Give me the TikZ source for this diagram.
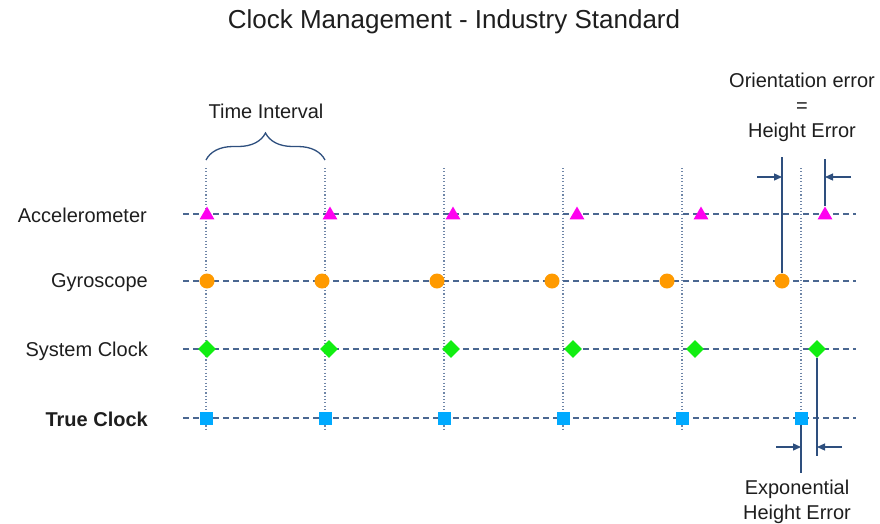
\documentclass[tikz,border=0pt]{standalone}
\usepackage{fontspec}
\setmainfont{Liberation Sans}
\usetikzlibrary{positioning}
\usetikzlibrary{shapes.geometric}
\usetikzlibrary{decorations.pathreplacing}
\usetikzlibrary{arrows.meta}

\definecolor{txt}{HTML}{1E1E1E}
\definecolor{rowc}{HTML}{4A6791}
\definecolor{errc}{HTML}{2E4F7E}
\definecolor{accc}{HTML}{FF00F0}
\definecolor{gyroc}{HTML}{FF9A00}
\definecolor{sysc}{HTML}{11EE11}
\definecolor{truec}{HTML}{00AAFF}

\begin{document}
\begin{tikzpicture}[x=1pt,y=-1pt,
    every node/.style={font=\fontsize{20}{25}\selectfont, text=txt},
    rowline/.style={rowc, line width=1.2pt, dash pattern=on 6pt off 4pt},
    tickline/.style={rowc!80, line width=1.1pt, dash pattern=on 1.1pt off 2.2pt},
    errline/.style={errc, line width=1.4pt},
    errarrow/.style={errc, line width=1.3pt, -{Triangle[length=8pt,width=7pt]}},
    accmark/.style={regular polygon, regular polygon sides=3, fill=accc,
      minimum size=17pt, inner sep=0pt},
    gyromark/.style={circle, fill=gyroc, minimum size=15pt, inner sep=0pt},
    sysmark/.style={diamond, fill=sysc, minimum size=18pt, inner sep=0pt},
    truemark/.style={rectangle, fill=truec, minimum size=13pt, inner sep=0pt}]
  \useasboundingbox (0,0) rectangle (880,523);

  \node (title) at (454,22) {\fontsize{26}{30}\selectfont Clock Management - Industry Standard};

  % row labels
  \begin{scope}[every node/.append style={anchor=east, inner sep=0pt}]
    \node (accl) at (147,215) {Accelerometer};
    \node (gyrol) at (148,283) {Gyroscope};
    \node (sysl) at (148,351) {System Clock};
    \node (truel) at (148,419) {\bfseries True Clock};
  \end{scope}

  % time grid
  \foreach \x [count=\i] in {206,325,444,563,682,801} {
    \coordinate (top\i) at (\x,168);
    \coordinate (bot\i) at (\x,429);
    \draw [tickline] (top\i) -- (bot\i);
  }
  \foreach \name/\y in {acc/214,gyro/281,sys/349,true/418} {
    \coordinate (\name-s) at (183,\y);
    \coordinate (\name-e) at (856,\y);
    \draw [rowline] (\name-s) -- (\name-e);
  }

  % samples
  \foreach \x [count=\i] in {207,330,453,577,701,825}
    \node [accmark] (acc\i) at (\x,215) {};
  \foreach \x [count=\i] in {207,322,437,552,667,782}
    \node [gyromark] (gyro\i) at (\x,281) {};
  \foreach \x [count=\i] in {207,329,451,573,695,817}
    \node [sysmark] (sys\i) at (\x,349) {};
  \foreach \x [count=\i] in {206,325,444,563,682,801}
    \node [truemark] (true\i) at (\x,418) {};

  % time interval
  \coordinate (ti-l) at (206,160);
  \coordinate (ti-r) at (325,160);
  \draw [errc, line width=1.3pt, decorate, decoration={brace, amplitude=27pt}]
    (ti-l) -- (ti-r);
  \node (interval) at (266,111) {Time Interval};

  % orientation error
  \node [align=center] (orient) at (802,107) {Orientation error\\=\\Height Error};
  \coordinate (oe-l) at (782,157);
  \coordinate (oe-r) at (825,159);
  \draw [errline] (oe-l) -- (gyro6.north);
  \draw [errline] (oe-r) -- (acc6.north);
  \coordinate (oa-l) at (757,177);
  \coordinate (oa-r) at (851,177);
  \draw [errarrow] (oa-l) -- (oa-l -| oe-l);
  \draw [errarrow] (oa-r) -- (oa-r -| oe-r);

  % exponential error
  \coordinate (ee-l) at (801,473);
  \coordinate (ee-r) at (817,456);
  \draw [errline] (true6.south) -- (ee-l);
  \draw [errline] (sys6.south) -- (ee-r);
  \coordinate (ea-l) at (776,447);
  \coordinate (ea-r) at (842,447);
  \draw [errarrow] (ea-l) -- (ea-l -| ee-l);
  \draw [errarrow] (ea-r) -- (ea-r -| ee-r);
  \node [align=center] (expo) at (797,502) {Exponential\\Height Error};

\end{tikzpicture}
\end{document}
